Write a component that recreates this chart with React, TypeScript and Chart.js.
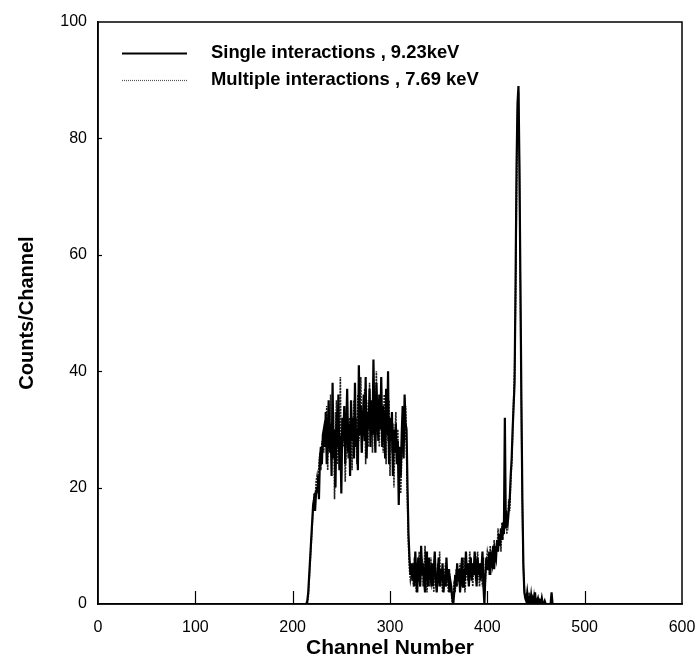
import React, { useEffect, useRef } from "react";
import { Chart, registerables } from "chart.js";

Chart.register(...registerables);

const X_MIN = 0;
const X_MAX = 600;
const Y_MIN = 0;
const Y_MAX = 100;
const X_TICKS = [0, 100, 200, 300, 400, 500, 600];
const Y_TICKS = [0, 20, 40, 60, 80, 100];
const X_TITLE = "Channel Number";
const Y_TITLE = "Counts/Channel";

const SINGLE_LABEL = "Single interactions , 9.23keV";
const MULTIPLE_LABEL = "Multiple interactions , 7.69 keV";

// first channel of the count arrays below (channels before/after are 0)
const START_CHANNEL = 212;

const SINGLE_COUNTS = [
  // 212-231 rising edge
  0, 0, 0, 0.5, 2, 5, 8, 11, 14, 17, 18, 16, 19, 20, 22, 18, 25, 27, 24, 29,
  // 232-316 plateau
  30, 27, 33, 24, 29, 35, 26, 31, 22, 38,
  25, 30, 20, 33, 27, 36, 23, 29, 19, 32,
  28, 34, 24, 30, 37, 26, 31, 22, 35, 28,
  32, 25, 38, 27, 30, 23, 41, 29, 34, 26,
  31, 36, 28, 39, 25, 33, 30, 37, 27, 35,
  29, 42, 31, 26, 38, 33, 28, 36, 30, 39,
  27, 34, 31, 25, 37, 29, 40, 24, 32, 28,
  33, 22, 30, 26, 31, 24, 28, 17, 27, 22,
  29, 34, 25, 36, 31,
  // 317-322 falling edge
  30, 20, 12, 8, 5, 7,
  // 323-400 valley
  4, 7, 3, 9, 5, 2, 8, 6, 3, 10,
  5, 7, 4, 2, 9, 6, 3, 8, 5, 4,
  7, 3, 6, 9, 4, 2, 5, 8, 3, 6,
  4, 7, 2, 5, 3, 8, 4, 6, 2, 4,
  3, 1, 0, 2, 5, 3, 7, 4, 6, 2,
  5, 8, 3, 6, 4, 9, 5, 7, 3, 6,
  8, 4, 7, 5, 9, 6, 3, 8, 5, 7,
  4, 6, 9, 3, 0, 5, 8, 6,
  // 401-431 rise to peak
  6, 9, 5, 8, 7, 10, 6, 9, 8, 11,
  9, 12, 10, 13, 11, 14, 12, 32, 13, 15,
  14, 16, 18, 22, 25, 30, 34, 38, 55, 75, 86,
  // 432-440 peak and fall
  89, 75, 55, 35, 18, 7, 2, 1, 0.5,
  // 441-470 tail
  2, 0.5, 1, 0, 1.5, 0, 1, 0.5, 2, 0,
  0.5, 1, 0, 0.5, 0, 1, 0, 0, 0.5, 0,
  0, 0, 0, 0, 0, 2, 0, 0, 0, 0,
];

const MULTIPLE_COUNTS = [
  // 212-231 rising edge
  0, 0, 0, 0, 1, 4, 7, 10, 13, 16, 19, 17, 21, 22, 19, 24, 26, 23, 28, 27,
  // 232-316 plateau
  26, 31, 28, 34, 23, 30, 27, 36, 25, 29,
  33, 18, 28, 35, 24, 31, 26, 39, 22, 30,
  27, 33, 21, 29, 36, 25, 32, 28, 34, 23,
  30, 35, 27, 32, 24, 36, 28, 31, 39, 26,
  33, 29, 37, 24, 35, 31, 27, 38, 30, 34,
  26, 36, 32, 28, 40, 29, 35, 27, 33, 38,
  31, 26, 36, 30, 24, 33, 28, 35, 22, 30,
  26, 31, 20, 28, 33, 25, 30, 23, 26, 19,
  25, 30, 33, 28, 34,
  // 317-322 falling edge
  26, 17, 10, 6, 4, 5,
  // 323-400 valley
  6, 3, 8, 5, 2, 7, 4, 9, 3, 5,
  8, 3, 6, 10, 4, 2, 7, 5, 3, 8,
  4, 6, 2, 8, 5, 3, 7, 4, 9, 3,
  5, 2, 6, 4, 7, 3, 5, 2, 6, 3,
  2, 0, 1, 4, 2, 6, 3, 5, 4, 7,
  3, 6, 4, 8, 2, 5, 7, 4, 6, 9,
  5, 7, 3, 6, 8, 4, 7, 9, 5, 3,
  7, 5, 3, 8, 2, 4, 7, 9,
  // 401-431 rise to peak
  8, 5, 10, 7, 9, 6, 11, 8, 10, 9,
  13, 10, 12, 9, 14, 11, 15, 13, 16, 12,
  15, 18, 16, 21, 24, 29, 35, 40, 52, 70, 84,
  // 432-440 peak and fall
  88, 74, 52, 32, 16, 6, 3, 1, 0.5,
  // 441-470 tail
  1, 0, 2, 0.5, 0, 1, 0, 1.5, 0, 0.5,
  0, 0, 1, 0, 0.5, 0, 0, 0, 0, 0,
  0, 0, 0, 0, 0, 0, 0, 0, 0, 0,
];

const FONT = "'Liberation Sans', Arial, Helvetica, sans-serif";

function toPoints(counts: number[]) {
  const pts = [{ x: X_MIN, y: 0 }];
  counts.forEach((v, i) => pts.push({ x: START_CHANNEL + i, y: v }));
  pts.push({ x: X_MAX, y: 0 });
  return pts;
}

const framePlugin = {
  id: "frameAndTicks",
  afterDatasetsDraw(chart: any) {
    const { ctx, chartArea, scales } = chart;
    const { left, right, top, bottom } = chartArea;
    ctx.save();
    ctx.strokeStyle = "#000";
    ctx.lineWidth = 1.2;
    X_TICKS.forEach((v) => {
      if (v === X_MIN || v === X_MAX) return;
      const px = Math.round(scales.x.getPixelForValue(v)) + 0.5;
      ctx.beginPath();
      ctx.moveTo(px, bottom);
      ctx.lineTo(px, bottom - 13);
      ctx.stroke();
    });
    Y_TICKS.forEach((v) => {
      if (v === Y_MIN || v === Y_MAX) return;
      const py = Math.round(scales.y.getPixelForValue(v)) + 0.5;
      ctx.beginPath();
      ctx.moveTo(left, py);
      ctx.lineTo(left + 4, py);
      ctx.stroke();
    });
    ctx.lineWidth = 1.5;
    ctx.strokeRect(left, top, right - left, bottom - top);
    ctx.restore();
  },
};

const legendPlugin = {
  id: "insideLegend",
  afterDraw(chart: any) {
    const { ctx, chartArea } = chart;
    const x0 = chartArea.left + 24;
    const x1 = chartArea.left + 89;
    const tx = chartArea.left + 113;
    const rows = [chartArea.top + 31, chartArea.top + 58];
    ctx.save();
    chart.data.datasets.forEach((ds: any, i: number) => {
      const y = rows[i] + 0.5;
      ctx.strokeStyle = i === 0 ? "#000" : "#555";
      ctx.lineWidth = i === 0 ? 1.8 : 1.2;
      ctx.setLineDash(i === 0 ? [] : [1, 1]);
      ctx.beginPath();
      ctx.moveTo(x0, y);
      ctx.lineTo(x1, y);
      ctx.stroke();
      ctx.setLineDash([]);
      ctx.fillStyle = "#000";
      ctx.font = `bold 18.4px ${FONT}`;
      ctx.textBaseline = "middle";
      ctx.textAlign = "left";
      ctx.fillText(ds.label, tx, rows[i]);
    });
    ctx.restore();
  },
};

export default function App() {
  const ref = useRef<HTMLCanvasElement | null>(null);

  useEffect(() => {
    if (!ref.current) return;
    const chart = new Chart(ref.current, {
      type: "line",
      data: {
        datasets: [
          {
            label: SINGLE_LABEL,
            data: toPoints(SINGLE_COUNTS),
            borderColor: "#000",
            borderWidth: 2.2,
            pointRadius: 0,
            tension: 0,
            fill: false,
          },
          {
            label: MULTIPLE_LABEL,
            data: toPoints(MULTIPLE_COUNTS),
            borderColor: "#222",
            borderWidth: 1.6,
            borderDash: [2, 1],
            pointRadius: 0,
            tension: 0,
            fill: false,
          },
        ],
      },
      options: {
        responsive: false,
        animation: false,
        devicePixelRatio: 1,
        parsing: false,
        layout: { padding: { left: 0, right: 17, top: 22, bottom: 0 } },
        plugins: {
          legend: { display: false },
          tooltip: { enabled: false },
        },
        scales: {
          x: {
            type: "linear",
            min: X_MIN,
            max: X_MAX,
            afterBuildTicks: (s: any) => {
              s.ticks = X_TICKS.map((v) => ({ value: v }));
            },
            afterFit: (s: any) => {
              s.height = 54;
              s.paddingLeft = 0;
              s.paddingRight = 0;
            },
            grid: { display: false, drawTicks: false },
            border: { display: true, color: "#000", width: 1.5 },
            ticks: {
              color: "#000",
              font: { family: FONT, size: 16 },
              padding: 14,
              maxRotation: 0,
              autoSkip: false,
            },
            title: {
              display: true,
              text: X_TITLE,
              color: "#000",
              font: { family: FONT, size: 21, weight: "bold", lineHeight: 0.9 },
              padding: { top: 0, bottom: 0 },
            },
          },
          y: {
            type: "linear",
            min: Y_MIN,
            max: Y_MAX,
            afterBuildTicks: (s: any) => {
              s.ticks = Y_TICKS.map((v) => ({ value: v }));
            },
            afterFit: (s: any) => {
              s.width = 98;
              s.paddingTop = 0;
              s.paddingBottom = 0;
            },
            grid: { display: false, drawTicks: false },
            border: { display: true, color: "#000", width: 1.5 },
            ticks: {
              color: "#000",
              font: { family: FONT, size: 16 },
              padding: 11,
              autoSkip: false,
            },
            title: {
              display: true,
              text: Y_TITLE,
              color: "#000",
              font: { family: FONT, size: 20, weight: "bold" },
              padding: { top: 15, bottom: 15 },
            },
          },
        },
      },
      plugins: [framePlugin, legendPlugin],
    } as any);
    return () => chart.destroy();
  }, []);

  return (
    <div style={{ position: "absolute", left: 0, top: 0, width: 699, height: 658, background: "#fff" }}>
      <canvas ref={ref} width={699} height={658} style={{ display: "block" }} />
    </div>
  );
}
